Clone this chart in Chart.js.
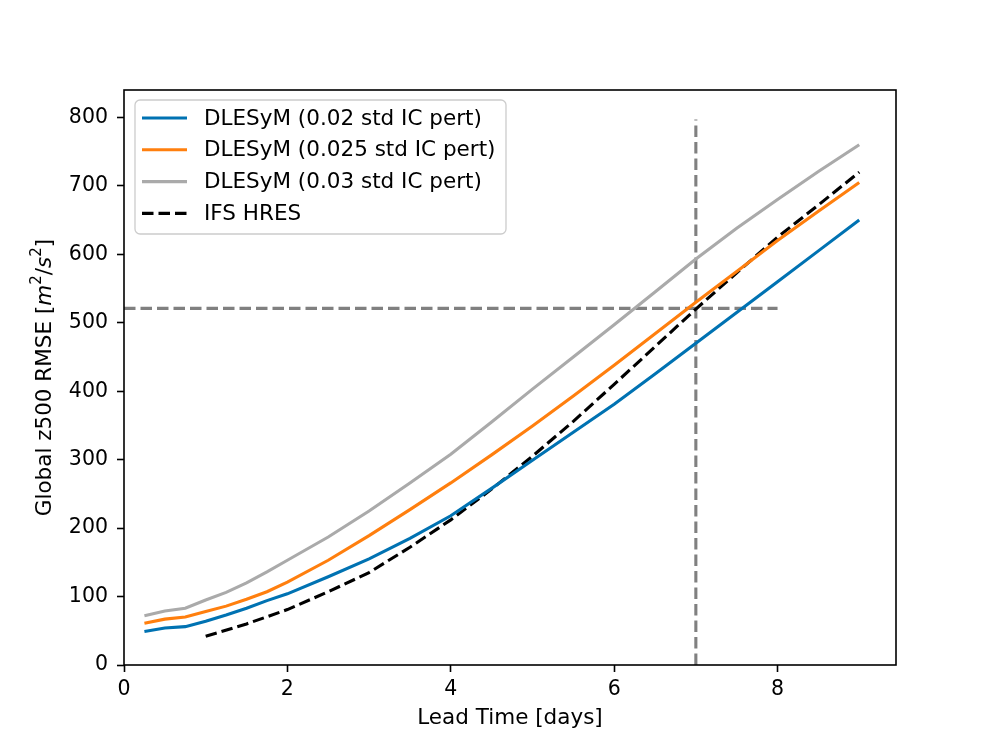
<!DOCTYPE html>
<html>
<head>
<meta charset="utf-8">
<script src="https://cdn.jsdelivr.net/npm/chart.js@4.4.1/dist/chart.umd.min.js"></script>
<style>
  html, body { margin: 0; padding: 0; background: #fff; }
  #wrap { width: 996px; height: 747px; }
</style>
</head>
<body>
<div id="wrap"><canvas id="rmseChart" width="996" height="747"></canvas></div>
<script>
// lead times (days)
const leadDays = [0.25, 0.5, 0.75, 1.0, 1.25, 1.5, 1.75, 2.0, 2.5, 3.0, 3.5, 4.0, 4.5, 5.0, 5.5, 6.0, 6.5, 7.0, 7.5, 8.0, 8.5, 9.0];
const pert002 = [49, 54, 56, 64, 73, 83, 94, 104, 129, 155, 185, 218, 258, 299, 340, 381, 425, 470, 515, 560, 605, 650];
const pert0025 = [61, 67, 70, 78, 86, 96, 107, 121, 153, 189, 227, 266, 307, 349, 393, 438, 484, 530, 575, 620, 663, 705];
const pert003 = [72, 79, 83, 95, 106, 120, 136, 153, 187, 225, 266, 308, 355, 403, 450, 497, 545, 593, 638, 680, 721, 760];

const ifsDays = [1.0, 1.5, 2.0, 2.5, 3.0, 3.5, 4.0, 4.5, 5.0, 5.5, 6.0, 6.5, 7.0, 7.5, 8.0, 8.5, 9.0];
const ifsHres = [42, 60, 81, 107, 135, 172, 212, 257, 305, 356, 410, 465, 520, 573, 625, 672, 720];

const seriesLabels = ['DLESyM (0.02 std IC pert)', 'DLESyM (0.025 std IC pert)', 'DLESyM (0.03 std IC pert)', 'IFS HRES'];

// reference lines
const refRmse = 521;
const refDay = 7;
const refLineXEnd = 8;
const refLineYTop = 797;

const xTicks = [0, 2, 4, 6, 8];
const yTicks = [0, 100, 200, 300, 400, 500, 600, 700, 800];

const FONT = 'DejaVu Sans';
const FS = 20.5;     // tick labels
const FL = 21.5;     // legend + axis titles
const LW = 3.1;
const DASH = [11.5, 5];

function pts(xs, ys) {
  return xs.map((x, i) => ({ x: x, y: ys[i] }));
}

// frame + legend inside the axes + y label with math-like parts
const decorations = {
  id: 'decorations',
  afterDraw(chart) {
    const ctx = chart.ctx;
    const a = chart.chartArea;
    ctx.save();
    ctx.strokeStyle = '#000';
    ctx.lineWidth = 1.6;
    ctx.strokeRect(a.left, a.top, a.right - a.left, a.bottom - a.top);

    // legend
    const bx = a.left + 11, by = a.top + 10, bw = 371, bh = 134;
    ctx.fillStyle = 'rgba(255,255,255,0.8)';
    ctx.strokeStyle = '#cccccc';
    ctx.lineWidth = 1.3;
    ctx.beginPath();
    ctx.roundRect(bx, by, bw, bh, 5);
    ctx.fill();
    ctx.stroke();

    const items = chart.data.datasets.filter(d => !d.hideLegend);
    ctx.font = FL + 'px "' + FONT + '"';
    ctx.textBaseline = 'middle';
    items.forEach((d, i) => {
      const yy = by + 18 + i * 31.8;
      ctx.strokeStyle = d.borderColor;
      ctx.lineWidth = LW;
      ctx.setLineDash(d.borderDash || []);
      ctx.beginPath();
      ctx.moveTo(bx + 7, yy);
      ctx.lineTo(bx + 52, yy);
      ctx.stroke();
      ctx.setLineDash([]);
      ctx.fillStyle = '#000';
      ctx.fillText(d.label, bx + 69, yy + 1);
    });

    // y axis label
    const parts = [
      { t: 'Global z500 RMSE [', f: FL + 'px "' + FONT + '"', dy: 0 },
      { t: 'm', f: 'oblique ' + FL + 'px "' + FONT + '"', dy: 0 },
      { t: '2', f: (FL * 0.7) + 'px "' + FONT + '"', dy: -8 },
      { t: '/', f: FL + 'px "' + FONT + '"', dy: 0 },
      { t: 's', f: 'oblique ' + FL + 'px "' + FONT + '"', dy: 0 },
      { t: '2', f: (FL * 0.7) + 'px "' + FONT + '"', dy: -8 },
      { t: ']', f: FL + 'px "' + FONT + '"', dy: 0 }
    ];
    let total = 0;
    parts.forEach(p => { ctx.font = p.f; p.w = ctx.measureText(p.t).width; total += p.w; });
    ctx.translate(45, (a.top + a.bottom) / 2);
    ctx.rotate(-Math.PI / 2);
    ctx.fillStyle = '#000';
    ctx.textBaseline = 'middle';
    ctx.textAlign = 'left';
    let cx = -total / 2;
    parts.forEach(p => {
      ctx.font = p.f;
      ctx.fillText(p.t, cx, p.dy);
      cx += p.w;
    });
    ctx.restore();
  }
};

const ctx = document.getElementById('rmseChart');
new Chart(ctx, {
  type: 'line',
  data: {
    datasets: [
      { label: seriesLabels[0], data: pts(leadDays, pert002), borderColor: '#0072b2' },
      { label: seriesLabels[1], data: pts(leadDays, pert0025), borderColor: '#ff7f0e' },
      { label: seriesLabels[2], data: pts(leadDays, pert003), borderColor: '#aaaaaa' },
      { label: seriesLabels[3], data: pts(ifsDays, ifsHres), borderColor: '#000000', borderDash: DASH },
      { label: 'ref h', hideLegend: true, data: [{ x: 0, y: refRmse }, { x: refLineXEnd, y: refRmse }], borderColor: '#808080', borderDash: DASH },
      { label: 'ref v', hideLegend: true, data: [{ x: refDay, y: 0 }, { x: refDay, y: refLineYTop }], borderColor: '#808080', borderDash: DASH }
    ].map(d => Object.assign({ borderWidth: LW, pointRadius: 0, tension: 0, fill: false }, d))
  },
  options: {
    responsive: false,
    animation: false,
    layout: { padding: { left: 0, top: 90, right: 100, bottom: 0 } },
    plugins: { legend: { display: false }, tooltip: { enabled: false } },
    scales: {
      x: {
        type: 'linear',
        min: 0,
        max: 9.45,
        afterBuildTicks: s => { s.ticks = xTicks.map(v => ({ value: v })); },
        afterFit: s => { s.height = 82; },
        grid: { display: true, drawOnChartArea: false, drawTicks: true, tickLength: 7, color: '#000', tickWidth: 1.6 },
        border: { display: false },
        ticks: { color: '#000', font: { family: FONT, size: FS }, padding: 5, maxRotation: 0 },
        title: { display: true, text: 'Lead Time [days]', color: '#000', font: { family: FONT, size: FL }, padding: { top: 0, bottom: 16 } }
      },
      y: {
        type: 'linear',
        min: 0,
        max: 840,
        afterBuildTicks: s => { s.ticks = yTicks.map(v => ({ value: v })); },
        afterFit: s => { s.width = 124; },
        grid: { display: true, drawOnChartArea: false, drawTicks: true, tickLength: 7, color: '#000', tickWidth: 1.6 },
        border: { display: false },
        ticks: { color: '#000', font: { family: FONT, size: FS }, padding: 9 },
        title: { display: false }
      }
    }
  },
  plugins: [decorations]
});
</script>
</body>
</html>
